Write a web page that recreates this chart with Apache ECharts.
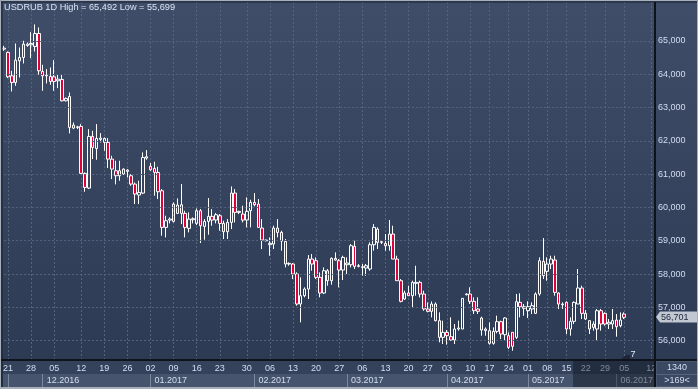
<!DOCTYPE html>
<html><head><meta charset="utf-8">
<script src="https://cdn.jsdelivr.net/npm/echarts@6/dist/echarts.min.js"></script>
<style>html,body{margin:0;padding:0;background:#34425d;}#c{width:698px;height:389px;}</style>
</head><body><div id="c"></div>
<script>
// ---- data (USDRUB daily candles) ----
const openP  = [64.75,64.65,63.95,63.75,64.40,64.50,64.86,64.88,64.83,65.22,64.08,63.95,63.93,63.92,63.80,63.84,63.20,63.33,62.38,62.40,62.43,61.02,60.58,62.13,61.77,62.04,61.95,61.95,61.45,61.10,60.95,61.15,61.08,60.95,60.70,60.37,60.43,61.48,61.23,61.17,61.05,60.50,59.40,59.62,59.58,59.82,60.08,59.82,59.37,59.63,59.52,59.90,59.43,59.58,59.73,59.62,59.75,59.52,59.27,59.55,60.43,59.85,59.80,59.62,59.90,60.15,60.10,59.38,59.00,58.88,58.90,59.38,59.25,58.98,58.30,58.30,58.00,57.10,57.35,57.55,58.45,58.40,57.90,57.43,58.10,57.80,58.47,58.40,58.12,58.28,58.28,58.83,58.23,58.22,58.18,58.15,58.88,59.35,58.95,58.92,58.85,59.20,58.45,57.80,57.25,57.43,57.35,57.72,57.75,57.40,56.95,56.88,57.10,56.60,56.10,56.25,56.12,56.02,56.35,56.35,57.38,57.40,57.18,56.95,56.68,56.35,56.30,55.92,56.28,56.57,56.18,56.15,56.25,56.10,57.15,57.02,56.90,56.95,56.82,57.40,58.38,58.08,58.30,58.42,57.43,57.10,57.15,56.35,56.58,57.10,57.58,56.82,56.60,56.50,56.35,56.90,56.82,56.50,56.50,56.62,56.45,56.80];
const highP  = [64.85,64.68,64.10,64.92,64.80,65.00,64.95,65.26,65.492,65.40,64.28,64.15,64.20,64.42,64.00,64.00,63.30,63.45,62.55,62.45,62.50,61.05,62.35,62.30,62.50,62.23,62.10,62.08,61.55,61.40,61.40,61.17,61.15,61.00,60.75,60.80,61.65,61.72,61.33,61.37,61.22,60.55,59.75,59.70,60.15,60.27,60.70,59.90,59.85,59.70,59.97,59.95,59.65,60.28,59.95,59.83,59.80,59.60,59.65,60.63,60.55,59.90,60.05,60.30,60.23,60.43,60.25,59.65,59.03,59.10,59.45,59.65,59.30,59.05,58.35,58.33,58.05,57.90,57.60,58.57,58.60,58.50,58.05,58.20,58.15,58.50,58.65,58.45,58.55,58.50,58.90,59.00,58.30,58.30,58.30,58.95,59.50,59.40,59.02,59.20,59.62,59.45,58.55,57.85,57.50,57.65,57.80,58.25,57.80,57.50,57.15,57.18,57.15,56.85,56.60,56.32,56.70,56.50,56.60,57.27,57.42,57.60,57.30,57.30,56.72,56.40,56.55,56.40,56.75,56.60,56.70,56.25,56.25,57.40,57.42,57.10,57.18,57.15,57.45,58.50,59.08,58.50,58.55,58.55,57.45,57.15,57.18,56.70,57.18,58.15,57.65,56.92,56.62,56.58,56.95,56.95,56.85,56.65,56.95,56.80,56.85,56.85];
const lowP   = [64.70,63.88,63.48,63.65,63.90,64.32,64.82,64.48,64.68,63.98,63.50,63.72,63.68,63.50,63.58,63.18,63.18,62.22,62.35,62.35,61.00,60.47,60.55,61.45,61.43,61.95,61.70,61.18,60.85,60.69,60.80,60.98,60.90,60.65,60.10,60.10,60.40,61.43,61.10,60.35,60.25,59.15,59.10,59.52,59.55,59.80,59.50,59.10,59.25,59.52,59.47,58.93,59.03,59.18,59.45,59.52,59.30,59.05,59.05,59.35,59.55,59.80,59.55,59.40,59.40,60.03,59.40,58.75,58.98,58.55,58.75,59.10,58.70,58.20,58.25,57.85,57.05,56.55,57.30,57.25,58.10,57.85,57.30,57.40,57.65,57.68,58.40,57.60,57.82,58.00,58.20,58.15,58.20,57.95,57.95,58.10,58.70,58.75,58.90,58.70,58.70,58.45,57.80,57.15,57.22,57.35,57.00,57.35,57.30,56.90,56.85,56.70,56.58,55.95,55.90,55.88,56.00,55.90,56.30,56.35,57.36,57.10,56.80,56.80,56.15,56.15,55.88,55.88,56.22,56.05,56.02,55.75,55.699,56.05,56.70,56.75,56.68,56.80,56.80,57.35,57.85,57.80,58.15,57.35,56.95,56.95,56.20,56.15,56.50,57.10,56.65,56.62,56.20,56.30,56.00,56.30,56.45,56.35,56.35,56.12,56.40,56.65];
const closeP = [64.78,63.92,63.75,64.42,64.50,64.90,64.90,64.92,65.22,64.10,63.95,63.97,63.78,63.78,63.85,63.20,63.27,62.40,62.47,62.42,61.02,60.60,62.13,61.80,62.07,62.08,62.07,61.45,61.15,60.95,61.10,61.00,61.12,60.70,60.40,60.45,61.50,61.52,61.13,61.05,60.47,59.40,59.60,59.65,60.10,60.07,59.82,59.40,59.65,59.66,59.90,59.45,59.58,59.73,59.62,59.78,59.52,59.27,59.55,60.43,59.85,59.88,59.62,59.88,60.15,60.08,59.40,59.02,59.02,58.92,59.38,59.25,58.99,58.30,58.32,58.00,57.10,57.35,57.55,58.45,58.30,57.90,57.43,58.10,57.80,58.47,58.42,58.12,58.50,58.33,58.85,58.23,58.25,58.20,58.25,58.88,59.40,58.95,58.97,58.85,59.20,58.45,57.80,57.18,57.43,57.35,57.75,57.75,57.40,56.95,56.88,57.10,56.60,56.10,56.25,56.15,56.02,56.35,56.38,57.27,57.40,57.18,56.90,56.88,56.32,56.30,55.92,56.28,56.57,56.20,56.68,55.80,55.83,57.17,57.02,56.97,57.02,57.05,57.40,58.40,57.95,58.30,58.45,57.45,57.10,57.08,56.35,56.58,57.15,57.58,56.82,56.65,56.35,56.40,56.90,56.50,56.50,56.55,56.60,56.42,56.62,56.701];
const slotCount = 170;
const weekIdx    = [1,7,13,20,26,32,38,44,50,56,63,69,75,81,87,93,99,105,110,115,121,126,131,136,141,146,151,156,161,168];
const weekLabels = ['21','28','05','12','19','26','02','09','16','23','30','06','13','20','27','06','13','20','27','03','10','17','24','01','08','15','22','29','05','12'];
const monthIdx    = [1,10,38,65,89,115,136,159];
const monthLabels = ['','12.2016','01.2017','02.2017','03.2017','04.2017','05.2017','06.2017'];
const priceTicks = [56,57,58,59,60,61,62,63,64,65];
const lastClose = 56.701;
const titleText = 'USDRUB 1D High = 65,492 Low = 55,699';
const infoTexts = ['1340', '>169<'];
const markerText = '7';

// ---- build ----
const cats = Array.from({length: slotCount}, (_, i) => String(i));
const ohlc = openP.map((o, i) => [o, closeP[i], lowP[i], highP[i]]);
const weekMap = new Map(weekIdx.map((v, i) => [v, weekLabels[i]]));
const monthMap = new Map(monthIdx.map((v, i) => [v, monthLabels[i]]));
const fmtPrice = v => v.toFixed(3).replace('.', ',');
const FONT = 'Arial, "Liberation Sans", sans-serif';
const TXT = '#d3def2';
const TAG = '#c2c8d1';

const chart = echarts.init(document.getElementById('c'), null, {renderer: 'canvas'});
chart.setOption({
  animation: false,
  grid: {left: 2, right: 43, top: 2, bottom: 29, containLabel: false},
  xAxis: [{
    type: 'category', data: cats, boundaryGap: false,
    axisLine: {show: true, lineStyle: {color: '#0f131b', width: 2}},
    axisTick: {show: false},
    axisLabel: {interval: (i) => weekMap.has(i), formatter: (v, i) => weekMap.get(+v) || '',
      margin: 4, color: TXT, fontSize: 9, fontFamily: FONT},
    splitLine: {show: true, interval: (i) => weekMap.has(i),
      lineStyle: {color: '#55647e', type: [2, 2], width: 1}}
  }, {
    type: 'category', data: cats, boundaryGap: false, position: 'bottom', offset: 14,
    axisLine: {show: false},
    axisTick: {show: true, interval: (i) => monthMap.has(i), length: 13, lineStyle: {color: '#7b889d'}},
    axisLabel: {interval: (i) => monthMap.has(i) && monthMap.get(i) !== '', formatter: (v) => monthMap.get(+v) || '',
      align: 'left', padding: [0, 0, 0, 4], margin: 2, color: TXT, fontSize: 9, fontFamily: FONT},
    splitLine: {show: false}
  }],
  yAxis: {
    type: 'value', position: 'right', min: 55.42, max: 66.165, splitNumber: 10, scale: true,
    axisLine: {show: false}, axisTick: {show: false}, splitLine: {show: false},
    axisLabel: {margin: 3, color: TXT, fontSize: 9, fontFamily: FONT, showMinLabel: false, showMaxLabel: false,
      formatter: (v) => (Math.abs(v - Math.round(v)) < 1e-6 && v <= 65.5) ? Math.round(v) + ',000' : ''}
  },
  series: [{
    type: 'candlestick', data: ohlc, barWidth: 3, clip: true,
    itemStyle: {color: 'rgba(0,0,0,0)', color0: '#e2003a', borderColor: '#ffffff', borderColor0: '#ffffff', borderWidth: 1},
    markLine: {
      silent: true, symbol: ['none', 'none'], animation: false,
      label: {show: false},
      lineStyle: {color: '#55647e', type: [2, 2], width: 1},
      data: priceTicks.map(v => ({yAxis: v}))
    }
  }]
});
// last-price tag placed through the y scale
const tagY = Math.round(chart.convertToPixel({yAxisIndex: 0}, lastClose));
chart.setOption({graphic: [
  {type: 'rect', z: -100, silent: true, shape: {x: 0, y: 0, width: 698, height: 389},
    style: {fill: new echarts.graphic.LinearGradient(0, 0, 0, 1, [{offset: 0, color: '#3f4d68'}, {offset: 1, color: '#2c3953'}])}},
  {type: 'rect', z: -50, silent: true, shape: {x: 3, y: 361, width: 652, height: 13}, style: {fill: '#34425c'}},
  {type: 'rect', z: -50, silent: true, shape: {x: 3, y: 374, width: 652, height: 13}, style: {fill: '#46546d'}},
  {type: 'rect', z: 90, silent: true, shape: {x: 656, y: 361, width: 42, height: 26}, style: {fill: '#3a4862', stroke: '#56647c', lineWidth: 1}},
  {type: 'line', z: 91, silent: true, shape: {x1: 656, y1: 374.5, x2: 698, y2: 374.5}, style: {stroke: '#56647c', lineWidth: 1}},
  {type: 'rect', z: 80, silent: true, shape: {x: 573, y: 361, width: 82, height: 26}, style: {fill: 'rgba(12,16,26,0.42)'}},
  {type: 'line', z: 95, silent: true, shape: {x1: 0, y1: 2, x2: 698, y2: 2}, style: {stroke: '#1a2030', lineWidth: 1}},
  {type: 'line', z: 95, silent: true, shape: {x1: 2, y1: 2, x2: 2, y2: 389}, style: {stroke: '#1a2030', lineWidth: 1}},
  {type: 'line', z: 95, silent: true, shape: {x1: 655, y1: 2, x2: 655, y2: 389}, style: {stroke: '#0e1219', lineWidth: 2}},
  {type: 'line', z: 95, silent: true, shape: {x1: 0, y1: 360, x2: 698, y2: 360}, style: {stroke: '#0f131b', lineWidth: 2}},
  {type: 'rect', z: 96, silent: true, shape: {x: 0.5, y: 0.5, width: 697, height: 388}, style: {fill: null, stroke: '#a7afbb', lineWidth: 1}},
  {type: 'line', z: 96, silent: true, shape: {x1: 0, y1: 388, x2: 698, y2: 388}, style: {stroke: '#a7afbb', lineWidth: 2}},
  {type: 'text', z: 100, silent: true, x: 4, y: 3, style: {text: titleText, fill: '#d9e3f4', font: '9.2px ' + FONT}},
  {type: 'text', z: 100, silent: true, x: 677, y: 367.5, style: {text: infoTexts[0], fill: TXT, font: '9px ' + FONT, align: 'center', verticalAlign: 'middle'}},
  {type: 'text', z: 100, silent: true, x: 677, y: 381, style: {text: infoTexts[1], fill: TXT, font: '9px ' + FONT, align: 'center', verticalAlign: 'middle'}},
  {type: 'polygon', z: 99, silent: true, shape: {points: [[621, 359], [626, 355], [630, 355], [630, 359]]}, style: {fill: '#1f2638'}},
  {type: 'text', z: 100, silent: true, x: 633, y: 355, style: {text: markerText, fill: '#e6ebf3', font: '9px ' + FONT, align: 'center', verticalAlign: 'middle'}},
  {type: 'polygon', z: 100, silent: true, shape: {points: [[656, tagY], [660, tagY - 5.5], [660, tagY + 5.5]]}, style: {fill: TAG}},
  {type: 'rect', z: 100, silent: true, shape: {x: 660, y: tagY - 5.5, width: 37, height: 11}, style: {fill: TAG}},
  {type: 'text', z: 101, silent: true, x: 661, y: tagY + 0.5, style: {text: fmtPrice(lastClose), fill: '#1b2539', font: '9px ' + FONT, align: 'left', verticalAlign: 'middle'}}
]});
</script></body></html>
